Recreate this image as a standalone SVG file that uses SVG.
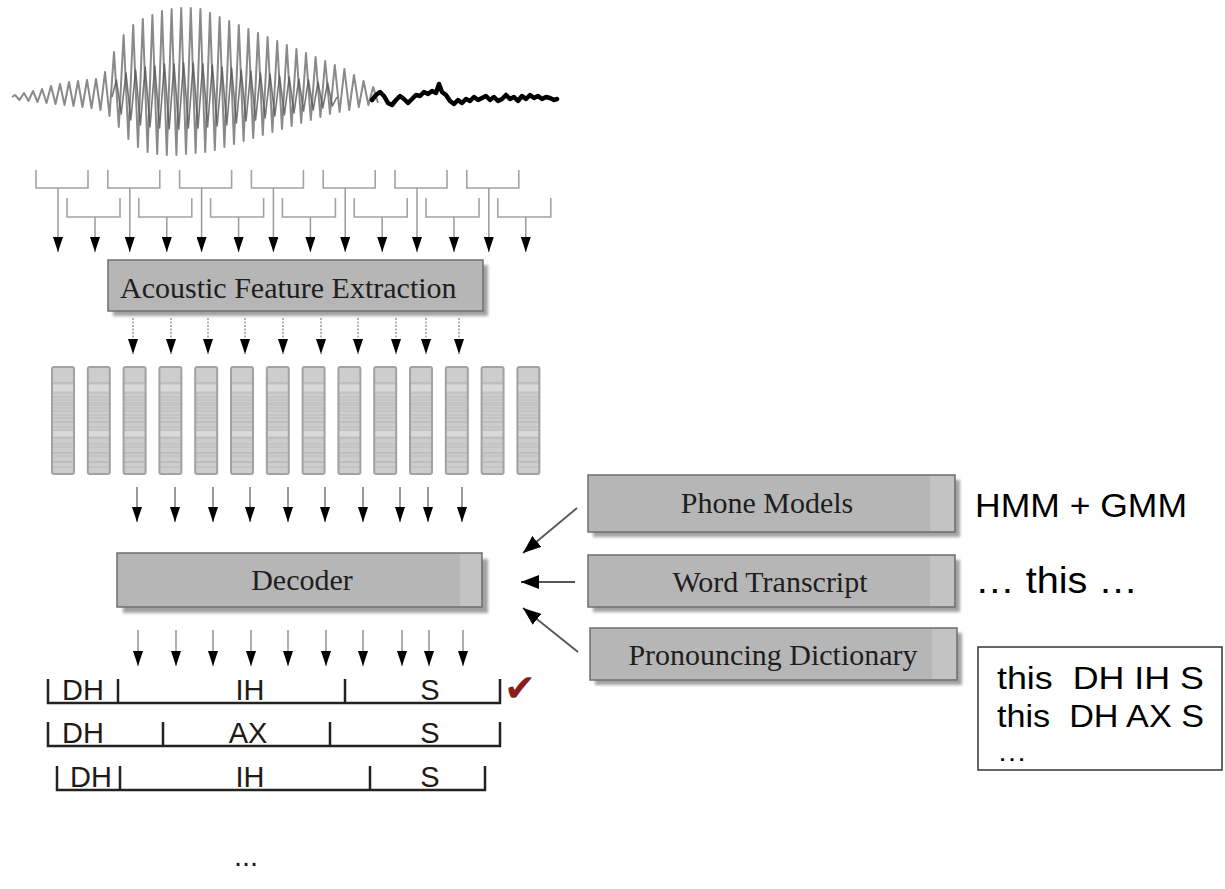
<svg xmlns="http://www.w3.org/2000/svg" width="1225" height="889" viewBox="0 0 1225 889">
<defs>
<style>
.box{fill:#b6b6b6;stroke:#6f6f6f;stroke-width:1.5}
.shadow{fill:#8a8a8a;opacity:.8}
.hl{fill:#c3c3c3}
.serif{font-family:"Liberation Serif","Times New Roman",serif;font-size:30px;fill:#1e1e1e}
.sans{font-family:"Liberation Sans",Arial,sans-serif;fill:#000}
.seg{fill:none;stroke:#222;stroke-width:2.5}
.lab{font-family:"Liberation Sans",Arial,sans-serif;font-size:29px;fill:#1f1a16;text-anchor:middle}
.brk{fill:none;stroke:#a3a3a3;stroke-width:1.6}
.vec{fill:url(#stripes);stroke:#a2a2a2;stroke-width:2}
.pre{white-space:pre}
.a1{stroke:#9a9a9a;stroke-width:1.5;marker-end:url(#ah)}
.a2{stroke:#9a9a9a;stroke-width:1.5;stroke-dasharray:2 1.5;marker-end:url(#ah)}
.a3{stroke:#555;stroke-width:1.2;marker-end:url(#ah)}
.a4{stroke:#777;stroke-width:1.2;marker-end:url(#ah)}
.a5{stroke:#555;stroke-width:1.8;marker-end:url(#ahb)}
</style>
<filter id="blur" x="-5%" y="-20%" width="110%" height="140%"><feGaussianBlur stdDeviation="1.5"/></filter>
<pattern id="stripes" patternUnits="userSpaceOnUse" x="0" y="367" width="600" height="107">
<rect width="600" height="107" fill="#cdcdcd"/>
<rect y="18" width="600" height="6" fill="#d9d9d9"/>
<rect y="64" width="600" height="5" fill="#d9d9d9"/>
<g stroke="#afafaf" stroke-width="1.2">
<line x1="0" y1="16" x2="600" y2="16"/><line x1="0" y1="55" x2="600" y2="55"/><line x1="0" y1="71" x2="600" y2="71"/><line x1="0" y1="86" x2="600" y2="86"/><line x1="0" y1="95" x2="600" y2="95"/>
</g>
<g stroke="#bcbcbc" stroke-width="1">
<line x1="0" y1="26" x2="600" y2="26"/><line x1="0" y1="30" x2="600" y2="30"/><line x1="0" y1="33" x2="600" y2="33"/><line x1="0" y1="36" x2="600" y2="36"/><line x1="0" y1="38" x2="600" y2="38"/><line x1="0" y1="41" x2="600" y2="41"/><line x1="0" y1="44" x2="600" y2="44"/><line x1="0" y1="48" x2="600" y2="48"/><line x1="0" y1="51" x2="600" y2="51"/><line x1="0" y1="60" x2="600" y2="60"/><line x1="0" y1="63" x2="600" y2="63"/><line x1="0" y1="77" x2="600" y2="77"/><line x1="0" y1="80" x2="600" y2="80"/><line x1="0" y1="89" x2="600" y2="89"/><line x1="0" y1="100" x2="600" y2="100"/>
</g>
</pattern>
<marker id="ah" markerUnits="userSpaceOnUse" viewBox="0 0 15 10" markerWidth="15" markerHeight="10" refX="15" refY="5" orient="auto"><path d="M0,0 L15,5 L0,10 z" fill="#000"/></marker>
<marker id="ahb" markerUnits="userSpaceOnUse" viewBox="0 0 18 14" markerWidth="18" markerHeight="14" refX="18" refY="7" orient="auto"><path d="M0,0 L18,7 L0,14 z" fill="#000"/></marker>
</defs>
<rect width="1225" height="889" fill="#fff"/>

<g id="waveform">
<path fill="none" stroke="#8a8a8a" stroke-width="2" stroke-linejoin="round" d="M12,97 L15,95 L19.5,100 L24,93 L28.5,101 L33,91 L37.5,102 L42,89 L46.5,103 L51,86 L55.5,104 L60,84 L64.5,105 L69,82 L73.5,106 L78,81 L82.5,107 L87,80 L91.5,108 L96,79 L100.5,110 L105,72 L109.5,116 L114,52 L118.8,127 L123.6,35 L128.4,139 L133.2,25 L138,147 L142.8,19 L147.6,152 L152.4,15 L157.2,154 L162,11 L166.8,155 L171.6,9 L176.4,155 L181.2,8 L186,154 L190.8,8 L195.6,153 L200.4,9 L205.2,152 L210,13 L214.8,150 L219.6,17 L224.4,147 L229.2,21 L234,144 L238.8,25 L243.6,141 L248.4,29 L253.2,138 L258,33 L262.8,135 L267.6,37 L272.4,132 L277.2,41 L282,129 L286.8,45 L291.6,126 L296.4,49 L301.2,123 L306,53 L310.8,120 L315.6,57 L320.4,117 L325.2,61 L330,114 L334.8,65 L339.6,112 L344.4,69 L349.2,110 L354,75 L358.8,107 L363.6,81 L368.4,105 L373.2,87 L378,103"/>
<path fill="none" stroke="#555" stroke-width="1.6" stroke-linejoin="round" opacity="0.8" d="M112,97 L116.4,80 L121.2,114 L126,73 L130.8,120 L135.6,70 L140.4,125 L145.2,67 L150,127 L154.8,66 L159.6,128 L164.4,64 L169.2,129 L174,64 L178.8,129 L183.6,63 L188.4,128 L193.2,63 L198,128 L202.8,64 L207.6,127 L212.4,65 L217.2,126 L222,67 L226.8,125 L231.6,68 L236.4,123 L241.2,70 L246,121 L250.8,71 L255.6,120 L260.4,73 L265.2,118 L270,74 L274.8,116 L279.6,76 L284.4,115 L289.2,77 L294,113 L298.8,79 L303.6,111 L308.4,80 L313.2,110 L318,82 L322.8,108 L327.6,83 L332.4,106 L337,97"/>
<path fill="none" stroke="#000" stroke-width="4.5" stroke-linejoin="round" stroke-linecap="round" d="M372,100 L376,95 L380,92 L384,96 L388,103 L392,105 L396,100 L400,96 L404,99 L408,103 L412,99 L416,95 L420,96 L424,92 L428,94 L432,91 L436,93 L439,84 L442,92 L446,95 L450,101 L454,104 L458,100 L462,103 L466,99 L470,101 L474,97 L478,100 L482,98 L486,96 L490,100 L494,97 L498,101 L502,99 L506,95 L510,99 L514,97 L518,101 L522,96 L526,99 L530,95 L534,98 L538,96 L542,99 L546,97 L550,98 L554,100 L557,99"/>
</g>

<g id="frames">
<path class="brk" d="M36,170 V188 H88 V170 M107.8,170 V188 H159.8 V170 M179.6,170 V188 H231.6 V170 M251.4,170 V188 H303.4 V170 M323.2,170 V188 H375.2 V170 M395,170 V188 H447 V170 M466.8,170 V188 H518.8 V170"/>
<path class="brk" d="M67,198 V217 H120 V198 M138.8,198 V217 H191.8 V198 M210.6,198 V217 H263.6 V198 M282.4,198 V217 H335.4 V198 M354.2,198 V217 H407.2 V198 M426,198 V217 H479 V198 M497.8,198 V217 H550.8 V198"/>
</g>

<g id="acoustic">
<rect class="shadow" x="113" y="265" width="375" height="51" filter="url(#blur)"/>
<rect class="box" x="108" y="260" width="375" height="51"/>
<text class="serif" x="120" y="298">Acoustic Feature Extraction</text>
</g>

<g id="features">
<rect class="vec" x="52" y="367" width="22" height="107" rx="2"/>
<rect class="vec" x="87.8" y="367" width="22" height="107" rx="2"/>
<rect class="vec" x="123.6" y="367" width="22" height="107" rx="2"/>
<rect class="vec" x="159.4" y="367" width="22" height="107" rx="2"/>
<rect class="vec" x="195.2" y="367" width="22" height="107" rx="2"/>
<rect class="vec" x="231" y="367" width="22" height="107" rx="2"/>
<rect class="vec" x="266.8" y="367" width="22" height="107" rx="2"/>
<rect class="vec" x="302.6" y="367" width="22" height="107" rx="2"/>
<rect class="vec" x="338.4" y="367" width="22" height="107" rx="2"/>
<rect class="vec" x="374.2" y="367" width="22" height="107" rx="2"/>
<rect class="vec" x="410" y="367" width="22" height="107" rx="2"/>
<rect class="vec" x="445.8" y="367" width="22" height="107" rx="2"/>
<rect class="vec" x="481.6" y="367" width="22" height="107" rx="2"/>
<rect class="vec" x="517.4" y="367" width="22" height="107" rx="2"/>
</g>

<g id="decoder">
<rect class="shadow" x="123" y="559" width="365" height="54" filter="url(#blur)"/>
<rect class="box" x="117" y="553" width="365" height="54"/>
<rect class="hl" x="460" y="554" width="21" height="52"/>
<text class="serif" x="302" y="590" text-anchor="middle">Decoder</text>
</g>

<g id="phone-models">
<rect class="shadow" x="593" y="480" width="367" height="57" filter="url(#blur)"/>
<rect class="box" x="588" y="475" width="367" height="57"/>
<rect class="hl" x="930" y="476" width="24" height="55"/>
<text class="serif" x="767" y="513" text-anchor="middle">Phone Models</text>
</g>

<g id="word-transcript">
<rect class="shadow" x="593" y="560" width="367" height="52" filter="url(#blur)"/>
<rect class="box" x="588" y="555" width="367" height="52"/>
<rect class="hl" x="930" y="556" width="24" height="50"/>
<text class="serif" x="770" y="592" text-anchor="middle">Word Transcript</text>
</g>

<g id="pron-dict">
<rect class="shadow" x="595" y="633" width="367" height="52" filter="url(#blur)"/>
<rect class="box" x="590" y="628" width="367" height="52"/>
<rect class="hl" x="932" y="629" width="24" height="50"/>
<text class="serif" x="773" y="665" text-anchor="middle">Pronouncing Dictionary</text>
</g>

<g id="hmm-label">
<text class="sans" x="975" y="517" font-size="34" textLength="212" lengthAdjust="spacingAndGlyphs">HMM + GMM</text>
</g>

<g id="transcript-label">
<text class="sans" x="975" y="593" font-size="36" textLength="163" lengthAdjust="spacingAndGlyphs">… this …</text>
</g>

<g id="lexicon">
<rect x="978" y="647" width="244" height="123" fill="#fff" stroke="#333" stroke-width="1.5"/>
<text class="sans pre" x="997" y="689" font-size="31" textLength="207" lengthAdjust="spacingAndGlyphs" xml:space="preserve">this  DH IH S</text>
<text class="sans pre" x="997" y="727" font-size="31" textLength="207" lengthAdjust="spacingAndGlyphs" xml:space="preserve">this  DH AX S</text>
<text class="sans" x="997" y="761" font-size="26" textLength="30" lengthAdjust="spacingAndGlyphs">…</text>
</g>

<g id="hyp1">
<path class="seg" d="M48,679 V703 H500 V679 M118,679 V703 M345,679 V703"/>
<text class="lab" x="83" y="700">DH</text>
<text class="lab" x="250" y="700">IH</text>
<text class="lab" x="430" y="700">S</text>
<text x="504" y="701" font-family="DejaVu Sans, sans-serif" font-size="38" fill="#8b1c1c">✔</text>
</g>

<g id="hyp2">
<path class="seg" d="M48,722 V746 H500 V722 M163,722 V746 M330,722 V746"/>
<text class="lab" x="83" y="743">DH</text>
<text class="lab" x="248" y="743">AX</text>
<text class="lab" x="430" y="743">S</text>
</g>

<g id="hyp3">
<path class="seg" d="M57,766 V790 H485 V766 M120,766 V790 M370,766 V790"/>
<text class="lab" x="91" y="787">DH</text>
<text class="lab" x="250" y="787">IH</text>
<text class="lab" x="430" y="787">S</text>
</g>

<g id="more">
<text class="lab" x="246" y="866" font-size="26">...</text>
</g>

<g id="connectors">
<line class="a1" x1="58" y1="188" x2="58" y2="252"/>
<line class="a1" x1="95" y1="217" x2="95" y2="252"/>
<line class="a1" x1="129.8" y1="188" x2="129.8" y2="252"/>
<line class="a1" x1="166.8" y1="217" x2="166.8" y2="252"/>
<line class="a1" x1="201.6" y1="188" x2="201.6" y2="252"/>
<line class="a1" x1="238.6" y1="217" x2="238.6" y2="252"/>
<line class="a1" x1="273.4" y1="188" x2="273.4" y2="252"/>
<line class="a1" x1="310.4" y1="217" x2="310.4" y2="252"/>
<line class="a1" x1="345.2" y1="188" x2="345.2" y2="252"/>
<line class="a1" x1="382.2" y1="217" x2="382.2" y2="252"/>
<line class="a1" x1="417" y1="188" x2="417" y2="252"/>
<line class="a1" x1="454" y1="217" x2="454" y2="252"/>
<line class="a1" x1="488.8" y1="188" x2="488.8" y2="252"/>
<line class="a1" x1="525.8" y1="217" x2="525.8" y2="252"/>

<line class="a2" x1="133" y1="318" x2="133" y2="354"/>
<line class="a2" x1="171" y1="318" x2="171" y2="354"/>
<line class="a2" x1="208" y1="318" x2="208" y2="354"/>
<line class="a2" x1="245" y1="318" x2="245" y2="354"/>
<line class="a2" x1="283" y1="318" x2="283" y2="354"/>
<line class="a2" x1="321" y1="318" x2="321" y2="354"/>
<line class="a2" x1="358" y1="318" x2="358" y2="354"/>
<line class="a2" x1="396" y1="318" x2="396" y2="354"/>
<line class="a2" x1="426" y1="318" x2="426" y2="354"/>
<line class="a2" x1="459" y1="318" x2="459" y2="354"/>

<line class="a3" x1="137" y1="487" x2="137" y2="522"/>
<line class="a3" x1="175" y1="487" x2="175" y2="522"/>
<line class="a3" x1="213" y1="487" x2="213" y2="522"/>
<line class="a3" x1="250" y1="487" x2="250" y2="522"/>
<line class="a3" x1="288" y1="487" x2="288" y2="522"/>
<line class="a3" x1="325" y1="487" x2="325" y2="522"/>
<line class="a3" x1="363" y1="487" x2="363" y2="522"/>
<line class="a3" x1="400" y1="487" x2="400" y2="522"/>
<line class="a3" x1="428" y1="487" x2="428" y2="522"/>
<line class="a3" x1="462" y1="487" x2="462" y2="522"/>

<line class="a4" x1="138" y1="630" x2="138" y2="666"/>
<line class="a4" x1="176" y1="630" x2="176" y2="666"/>
<line class="a4" x1="213" y1="630" x2="213" y2="666"/>
<line class="a4" x1="251" y1="630" x2="251" y2="666"/>
<line class="a4" x1="288" y1="630" x2="288" y2="666"/>
<line class="a4" x1="326" y1="630" x2="326" y2="666"/>
<line class="a4" x1="363" y1="630" x2="363" y2="666"/>
<line class="a4" x1="402" y1="630" x2="402" y2="666"/>
<line class="a4" x1="429" y1="630" x2="429" y2="666"/>
<line class="a4" x1="463" y1="630" x2="463" y2="666"/>

<line class="a5" x1="577" y1="508" x2="523" y2="553"/>
<line class="a5" x1="575" y1="582" x2="521" y2="582"/>
<line class="a5" x1="578" y1="652" x2="523" y2="608"/>
</g>
</svg>
